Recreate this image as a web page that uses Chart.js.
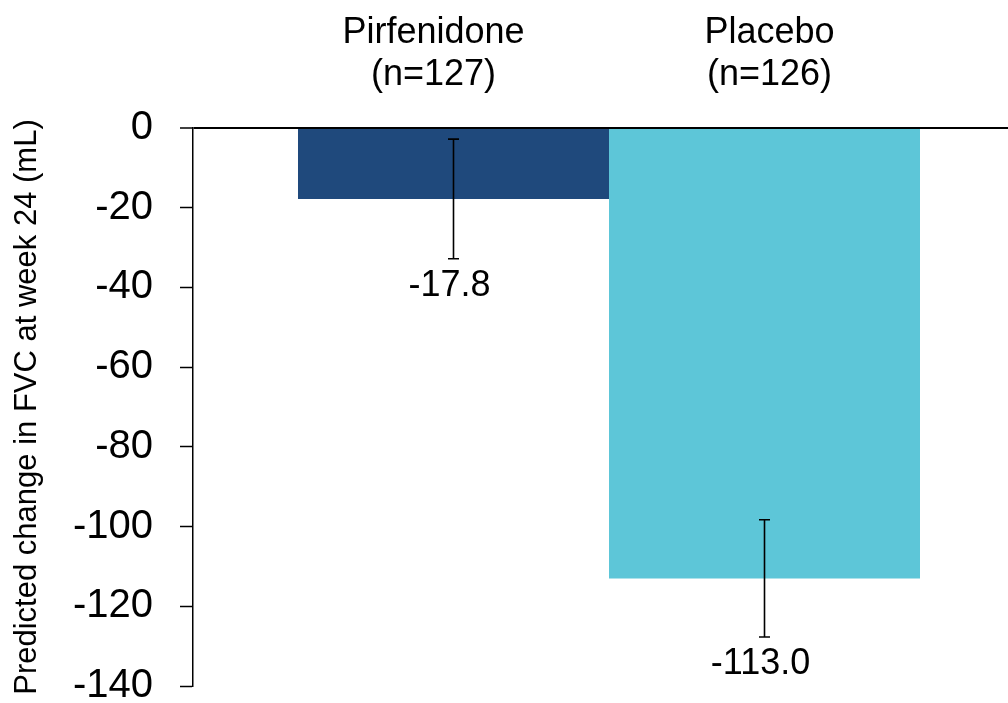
<!DOCTYPE html>
<html lang="en">
<head>
    <meta charset="UTF-8">
    <title>Predicted change in FVC at week 24</title>
    <script src="https://cdn.jsdelivr.net/npm/chart.js"></script>
    <style>
        body {
            margin: 0;
            background-color: white;
            overflow: hidden;
        }
        .container {
            width: 1026px;
            height: 703px;
        }
    </style>
</head>
<body>
    <div class="container">
        <canvas id="fvcChart"></canvas>
    </div>

    <script>
        // Data
        const groups = ['Pirfenidone', 'Placebo'];
        const groupN = [127, 126];
        const changeMean = [-17.8, -113.0];
        const changeErr = [15.0, 14.7];
        const barColors = ['#1F497C', '#5DC6D8'];
        const yMin = -140;
        const yMax = 0;
        const yStep = 20;

        const FONT = '"Liberation Sans", Arial, sans-serif';

        // Error bars, value labels and group labels on top
        const annotations = {
            id: 'annotations',
            afterDatasetsDraw(chart) {
                const ctx = chart.ctx;
                const y = chart.scales.y;
                ctx.save();
                groups.forEach((name, i) => {
                    const bar = chart.getDatasetMeta(i).data[0];
                    const x = bar.x;
                    const top = y.getPixelForValue(changeMean[i] + changeErr[i]);
                    const bottom = y.getPixelForValue(changeMean[i] - changeErr[i]);

                    ctx.strokeStyle = '#000';
                    ctx.lineWidth = 1.6;
                    ctx.beginPath();
                    ctx.moveTo(x, top);
                    ctx.lineTo(x, bottom);
                    ctx.moveTo(x - 5.5, top);
                    ctx.lineTo(x + 5.5, top);
                    ctx.moveTo(x - 5.5, bottom);
                    ctx.lineTo(x + 5.5, bottom);
                    ctx.stroke();

                    ctx.fillStyle = '#000';
                    ctx.font = '36px ' + FONT;
                    ctx.textAlign = 'center';
                    ctx.textBaseline = 'middle';
                    ctx.fillText(changeMean[i].toFixed(1), x - 4, bottom + 27);

                    // group labels above the plot
                    const lx = i === 0 ? x - 20 : x + 5;
                    ctx.textBaseline = 'alphabetic';
                    ctx.fillText(name, lx, 43);
                    ctx.fillText('(n=' + groupN[i] + ')', lx, 85);
                });
                ctx.restore();
            }
        };

        const ctx = document.getElementById('fvcChart').getContext('2d');
        new Chart(ctx, {
            type: 'bar',
            data: {
                labels: [''],
                datasets: groups.map((name, i) => ({
                    label: name,
                    data: [changeMean[i]],
                    backgroundColor: barColors[i],
                    borderWidth: 0
                }))
            },
            options: {
                responsive: true,
                maintainAspectRatio: false,
                animation: false,
                categoryPercentage: 0.7476,
                barPercentage: 1.0,
                layout: {
                    padding: { top: 128, bottom: 17, left: 0, right: 1 }
                },
                plugins: {
                    legend: { display: false },
                    tooltip: { enabled: false }
                },
                scales: {
                    x: {
                        display: false
                    },
                    y: {
                        min: yMin,
                        max: yMax,
                        z: 1,
                        afterFit: (scale) => {
                            scale.width = 193;
                            scale.paddingBottom = 10;
                        },
                        ticks: {
                            stepSize: yStep,
                            padding: 27,
                            color: '#000',
                            font: { family: FONT, size: 40, lineHeight: 0.8 }
                        },
                        grid: {
                            color: (c) => (c.tick && c.tick.value === 0) ? '#000' : 'rgba(0,0,0,0)',
                            lineWidth: (c) => (c.tick && c.tick.value === 0) ? 2 : 1,
                            tickColor: '#000',
                            tickWidth: 1.5,
                            tickLength: 13
                        },
                        border: {
                            color: '#000',
                            width: 1.5
                        },
                        title: {
                            display: true,
                            text: 'Predicted change in FVC at week 24 (mL)',
                            color: '#000',
                            padding: { top: 9, bottom: 0 },
                            font: { family: FONT, size: 31 }
                        }
                    }
                }
            },
            plugins: [annotations]
        });
    </script>
</body>
</html>
